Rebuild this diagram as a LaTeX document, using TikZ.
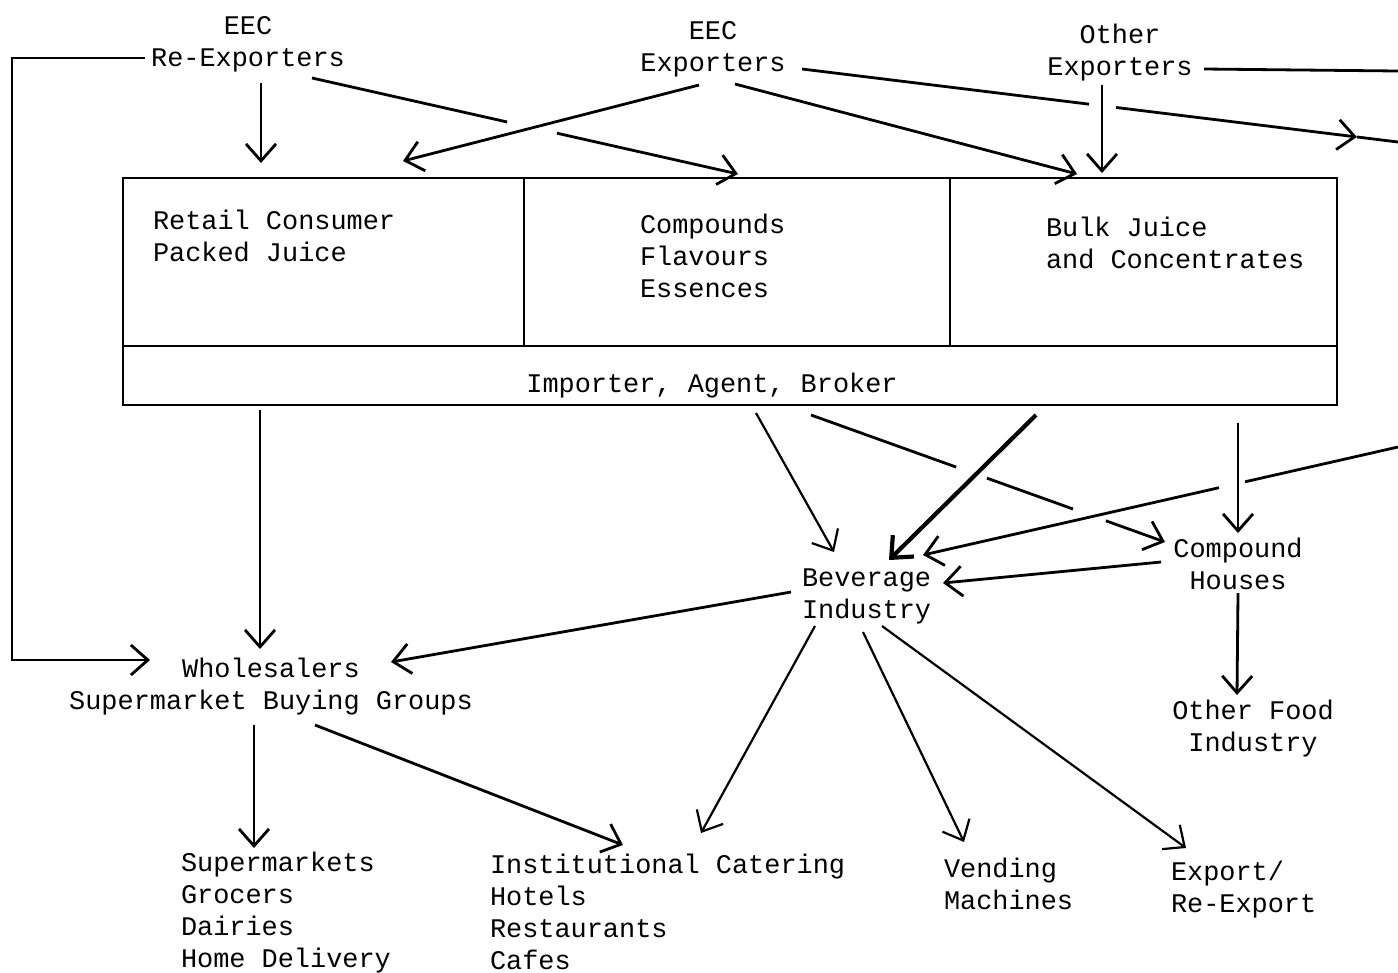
\documentclass[tikz,border=0pt]{standalone}
\usepackage{fontspec}
\setmonofont{Liberation Mono}
\usetikzlibrary{arrows.meta,calc}
\begin{document}
\begin{tikzpicture}[x=0.5bp,y=-0.5bp,
  txt/.style={font=\ttfamily\fontsize{13.5}{16}\selectfont, inner sep=0pt, outer sep=0pt},
  txtc/.style={txt, align=center, anchor=base},
  txtl/.style={txt, align=left, anchor=base west},
  box/.style={draw, line width=1.3bp, inner sep=0pt, outer sep=0pt},
  ln/.style={line width=1.4bp},
  thin/.style={line width=1.1bp},
  thk/.style={line width=2.1bp},
  arr/.style={ln, -{Straight Barb[length=8.5bp,width=15bp]}}]
\useasboundingbox (0,0) rectangle (1398,972);

% ---------- text nodes (anchor = baseline of last line) ----------
\node[txtc] (reex) at (248,66) {EEC\\Re-Exporters};
\node[txtc] (eecx) at (713,71) {EEC\\Exporters};
\node[txtc] (othx) at (1120,75) {Other\\Exporters};

\node[box, minimum width=200.5bp, minimum height=84bp] (retail) at (323.5,262) {};
\node[box, minimum width=213bp, minimum height=84bp] (comp) at (737,262) {};
\node[box, minimum width=193.5bp, minimum height=84bp] (bulk) at (1143.5,262) {};
\node[box, minimum width=607bp, minimum height=29.5bp] (imp) at (730,375.5) {};

\node[txtl] (retailT) at (153,261) {Retail Consumer\\Packed Juice};
\node[txtl] (compT) at (640,297) {Compounds\\Flavours\\Essences};
\node[txtl] (bulkT) at (1046,268) {Bulk Juice\\and Concentrates};
\node[txtc] (impT) at (712,392) {Importer, Agent, Broker};

\node[txtl] (bev) at (802,618) {Beverage\\Industry};
\node[txtc] (chouse) at (1238,589) {Compound\\Houses};
\node[txtc] (ofood) at (1253,751) {Other Food\\Industry};
\node[txtc] (whole) at (271,709) {Wholesalers\\Supermarket Buying Groups};
\node[txtl] (smkt) at (181,967) {Supermarkets\\Grocers\\Dairies\\Home Delivery};
\node[txtl] (inst) at (490,969) {Institutional Catering\\Hotels\\Restaurants\\Cafes};
\node[txtl] (vend) at (944,909) {Vending\\Machines};
\node[txtl] (expo) at (1171,912) {Export/\\Re-Export};

% ---------- connector end points ----------
\coordinate (reexL) at (145,58);
\coordinate (wholeL) at (150,660);
\coordinate (reexD) at (261,83);   \coordinate (retailU) at (261,163);
\coordinate (reexR) at (312,78);   \coordinate (compU) at (738,174);
\coordinate (eecxL) at (699,85);   \coordinate (retailU2) at (403,161);
\coordinate (eecxR) at (735,84);   \coordinate (bulkU) at (1077,174);
\coordinate (eecxE) at (802,69);   \coordinate (offR1) at (1398,142);
\coordinate (othxE) at (1204,69);  \coordinate (offR0) at (1398,71);
\coordinate (othxD) at (1102,85);  \coordinate (bulkU2) at (1102,173);
\coordinate (impW) at (260,410);   \coordinate (wholeU) at (260,649);
\coordinate (impB) at (756,413);   \coordinate (bevU1) at (834,552);
\coordinate (impC) at (811,415);   \coordinate (chW) at (1165,542);
\coordinate (bulkD) at (1036,415); \coordinate (bevU2) at (889,560);
\coordinate (bulkD2) at (1238,423);\coordinate (chU) at (1238,533);
\coordinate (offR2) at (1398,447); \coordinate (bevU3) at (923,555);
\coordinate (chL) at (1161,562);   \coordinate (bevR) at (943,583);
\coordinate (chD) at (1238,593);   \coordinate (ofoodU) at (1237,695);
\coordinate (bevL) at (791,592);   \coordinate (wholeR) at (391,662);
\coordinate (bevD1) at (815,626);  \coordinate (instU) at (701,833);
\coordinate (bevD2) at (863,632);  \coordinate (vendU) at (964,842);
\coordinate (bevD3) at (882,626);  \coordinate (expoU) at (1186,848);
\coordinate (wholeD1) at (254,725);\coordinate (smktU) at (254,848);
\coordinate (wholeD2) at (315,725);\coordinate (instU2) at (623,845);

% ---------- connectors ----------
\draw[arr] (reexL) -- ++(-133,0) |- (wholeL);
\draw[arr] (reexD) -- (retailU);
\draw[ln] (reexR) -- ($(reexR)!0.458!(compU)$);
\draw[arr] ($(reexR)!0.575!(compU)$) -- (compU);
\draw[arr] (eecxL) -- (retailU2);
\draw[arr] (eecxR) -- (bulkU);
\draw[ln] (eecxE) -- ($(eecxE)!0.4815!(offR1)$);
\draw[arr] ($(eecxE)!0.527!(offR1)$) -- ($(eecxE)!0.931!(offR1)$);
\draw[ln] ($(eecxE)!0.931!(offR1)$) -- (offR1);
\draw[ln] (othxE) -- (offR0);
\draw[arr] (othxD) -- (bulkU2);

\draw[arr] (impW) -- (wholeU);
\draw[arr, thin] (impB) -- (bevU1);
\draw[ln] (impC) -- ($(impC)!0.41!(chW)$);
\draw[ln] ($(impC)!0.497!(chW)$) -- ($(impC)!0.74!(chW)$);
\draw[arr] ($(impC)!0.833!(chW)$) -- (chW);
\draw[arr, thk] (bulkD) -- (bevU2);
\draw[arr] (bulkD2) -- (chU);
\draw[ln] (offR2) -- ($(offR2)!0.322!(bevU3)$);
\draw[arr] ($(offR2)!0.377!(bevU3)$) -- (bevU3);
\draw[arr] (chL) -- (bevR);
\draw[arr] (chD) -- (ofoodU);

\draw[arr] (bevL) -- (wholeR);
\draw[arr, thin] (bevD1) -- (instU);
\draw[arr, thin] (bevD2) -- (vendU);
\draw[arr, thin] (bevD3) -- (expoU);
\draw[arr] (wholeD1) -- (smktU);
\draw[arr] (wholeD2) -- (instU2);
\end{tikzpicture}
\end{document}
